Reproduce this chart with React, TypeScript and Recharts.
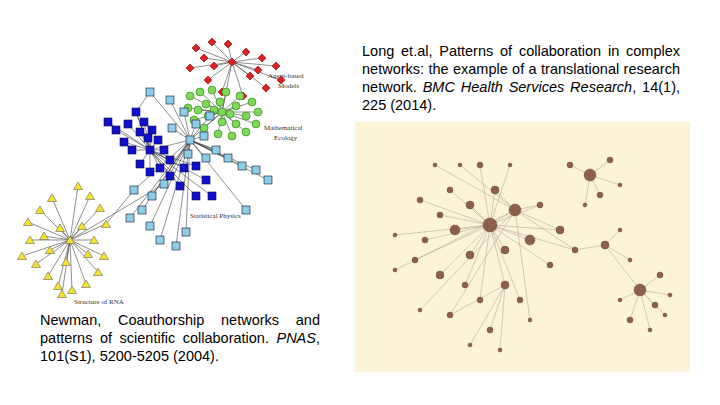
import React from 'react';
import { ScatterChart, Scatter, XAxis, YAxis, ReferenceLine, ReferenceArea, Customized } from 'recharts';

// left network (Newman)
const agentNodes = [[232, 62], [196, 48], [212, 42], [228, 44], [246, 52], [262, 58], [276, 66], [281, 80], [266, 88], [250, 76], [214, 66], [204, 58], [190, 68], [243, 96], [222, 92], [208, 80], [258, 70]];
const ecoNodes = [[222, 112], [190, 96], [200, 92], [212, 90], [226, 92], [240, 96], [252, 102], [258, 112], [256, 124], [246, 132], [232, 136], [218, 134], [204, 128], [194, 120], [188, 108], [206, 104], [220, 102], [236, 106], [246, 116], [236, 124], [222, 122], [208, 116], [198, 110], [230, 114], [214, 110]];
const physDark = [[150, 150], [108, 122], [116, 130], [128, 124], [140, 132], [148, 138], [158, 140], [164, 150], [170, 160], [160, 168], [150, 172], [140, 164], [132, 150], [124, 142], [170, 176], [184, 168], [196, 166], [206, 180], [212, 196], [196, 196], [180, 186], [152, 130], [136, 112], [144, 122]];
const physLight = [[190, 140], [150, 92], [170, 100], [184, 112], [196, 124], [204, 136], [216, 150], [228, 158], [242, 166], [256, 170], [268, 180], [246, 210], [206, 158], [188, 154], [164, 184], [152, 196], [134, 190], [142, 210], [130, 218], [150, 226], [160, 240], [176, 246], [186, 232], [210, 116], [172, 128]];
const rnaNodes = [[70, 240], [78, 186], [90, 196], [100, 208], [106, 224], [52, 198], [40, 210], [28, 222], [30, 240], [22, 256], [36, 264], [48, 276], [58, 286], [72, 290], [86, 284], [98, 272], [104, 256], [60, 228], [82, 226], [50, 250], [88, 254], [66, 262], [44, 236], [94, 240], [62, 294]];
// right network (Long et al.)
const rNodes = [[490, 225, 7], [470, 205, 4], [455, 230, 5], [515, 210, 6], [530, 240, 5], [505, 250, 4], [470, 255, 4], [440, 215, 3], [425, 240, 3], [495, 190, 4], [540, 205, 3], [560, 230, 4], [450, 190, 3], [420, 200, 3], [415, 260, 3], [440, 275, 4], [465, 285, 3], [480, 300, 3], [505, 285, 4], [520, 300, 3], [490, 330, 3], [470, 345, 2], [500, 350, 2], [550, 265, 3], [575, 250, 3], [435, 165, 2], [460, 165, 2], [480, 165, 3], [510, 165, 2], [395, 235, 2], [395, 270, 2], [420, 310, 2], [450, 315, 3], [530, 320, 2], [605, 245, 4], [620, 230, 2], [630, 260, 2], [590, 175, 6], [570, 165, 3], [610, 160, 3], [600, 195, 3], [585, 205, 2], [620, 185, 2], [640, 290, 6], [660, 275, 3], [655, 305, 3], [630, 320, 3], [620, 300, 2], [670, 295, 2], [650, 330, 2], [665, 315, 2]];
const rHubs = [[0, 1, 2, 3, 4, 5, 6, 7, 8, 9, 10, 11, 12, 13, 14, 15, 16, 17, 18, 19, 23, 24, 27, 28, 29], [3, 10, 11, 24, 9, 26, 25, 30, 31, 32, 33], [18, 20, 21, 22, 32], [34, 35, 36, 24, 43], [37, 38, 39, 40, 41, 42], [43, 44, 45, 46, 47, 48, 49, 50]];

const longLines = ['Long et.al, Patterns of collaboration in complex', 'networks: the example of a translational research', 'network. |BMC Health Services Research|, 14(1),', '225 (2014).'];
const newmanLines = ['Newman, Coauthorship networks and', 'patterns of scientific collaboration. |PNAS|,', '101(S1), 5200-5205 (2004).'];

const edges: number[][] = [];
const hubEdges = (nodes: number[][]) => nodes.slice(1).forEach(n => edges.push([nodes[0][0], nodes[0][1], n[0], n[1]]));
[agentNodes, ecoNodes, physDark, physLight, rnaNodes].forEach(hubEdges);
edges.push([232, 62, 222, 112], [222, 112, 190, 140], [150, 150, 190, 140], [150, 150, 136, 112], [150, 92, 136, 112], [164, 184, 70, 240], [106, 224, 134, 190], [190, 140, 216, 150]);
rHubs.forEach(h => h.slice(1).forEach(i => edges.push([rNodes[h[0]][0], rNodes[h[0]][1], rNodes[i][0], rNodes[i][1]])));

const toPts = (a: number[][]) => a.map(([x, y, r]) => ({ x, y, r: r ?? 3 }));

const Diamond = (p: any) => <polygon points={`${p.cx},${p.cy - 4} ${p.cx + 4},${p.cy} ${p.cx},${p.cy + 4} ${p.cx - 4},${p.cy}`} fill="#e02020" stroke="#800" strokeWidth={0.6} />;
const Circ = (p: any) => <circle cx={p.cx} cy={p.cy} r={4} fill="#7ed957" stroke="#2a7a10" strokeWidth={0.6} />;
const Sq = (fill: string) => (p: any) => <rect x={p.cx - 4} y={p.cy - 4} width={8} height={8} fill={fill} stroke="#113" strokeWidth={0.6} />;
const Tri = (p: any) => <polygon points={`${p.cx},${p.cy - 4} ${p.cx + 4.5},${p.cy + 3.5} ${p.cx - 4.5},${p.cy + 3.5}`} fill="#f5e32a" stroke="#666" strokeWidth={0.6} />;
const Ball = (p: any) => <circle cx={p.cx} cy={p.cy} r={p.payload.r} fill="#8e5f4b" stroke="#5b3a2c" strokeWidth={0.4} />;

function Para({ lines, left, top, width }: { lines: string[]; left: number; top: number; width: number }) {
  return (
    <div style={{ position: 'absolute', left, top, width, fontFamily: 'Liberation Sans, Arial', fontSize: 14.5, lineHeight: '18px', color: '#000' }}>
      {lines.map((l, i) => (
        <div key={i} style={{ textAlign: 'justify', textAlignLast: i < lines.length - 1 ? 'justify' : 'left', whiteSpace: 'nowrap' }}>
          {l.split('|').map((s, j) => (j % 2 ? <i key={j}>{s}</i> : <span key={j}>{s}</span>))}
        </div>
      ))}
    </div>
  );
}

export default function App() {
  return (
    <div style={{ position: 'relative', width: 720, height: 405, margin: -8, background: '#fff' }}>
      <ScatterChart width={720} height={405} margin={{ top: 0, right: 0, bottom: 0, left: 0 }}>
        <XAxis type="number" dataKey="x" domain={[0, 720]} hide />
        <YAxis type="number" dataKey="y" domain={[0, 405]} reversed hide />
        <ReferenceArea x1={355} x2={690} y1={122} y2={372} fill="#fcf3d8" fillOpacity={1} stroke="none" />
        {edges.map((e, i) => (
          <ReferenceLine key={i} segment={[{ x: e[0], y: e[1] }, { x: e[2], y: e[3] }]} stroke={e[0] > 350 ? '#b8ad9a' : '#444'} strokeWidth={0.6} />
        ))}
        <Scatter data={toPts(agentNodes)} shape={Diamond} isAnimationActive={false} />
        <Scatter data={toPts(ecoNodes)} shape={Circ} isAnimationActive={false} />
        <Scatter data={toPts(physLight)} shape={Sq('#8ccde8')} isAnimationActive={false} />
        <Scatter data={toPts(physDark)} shape={Sq('#1010d0')} isAnimationActive={false} />
        <Scatter data={toPts(rnaNodes)} shape={Tri} isAnimationActive={false} />
        <Scatter data={toPts(rNodes)} shape={Ball} isAnimationActive={false} />
        <Customized component={() => (
          <g fontFamily="Liberation Serif" fontSize={7} fill="#333">
            <text x={268} y={78}>Agent-based</text>
            <text x={278} y={88}>Models</text>
            <text x={264} y={130}>Mathematical</text>
            <text x={274} y={140}>Ecology</text>
            <text x={190} y={218}>Statistical Physics</text>
            <text x={74} y={304}>Structure of RNA</text>
          </g>
        )} />
      </ScatterChart>
      <Para lines={longLines} left={362} top={42} width={318} />
      <Para lines={newmanLines} left={40} top={311} width={280} />
    </div>
  );
}
